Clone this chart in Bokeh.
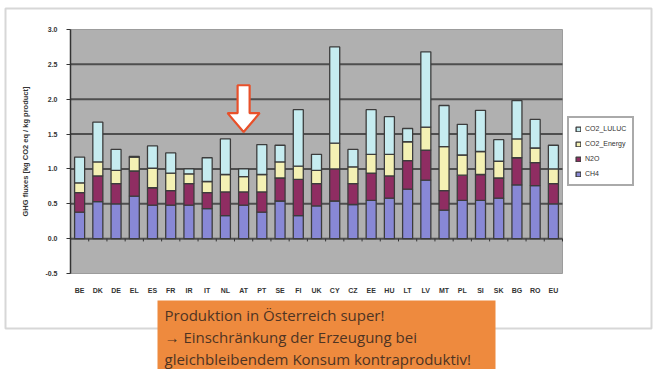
from bokeh.plotting import figure
from bokeh.models import (Range1d, Legend, LegendItem, Label, LinearAxis,
                          BoxAnnotation, FixedTicker, NumeralTickFormatter)
from bokeh.embed import file_html
from bokeh.resources import INLINE

# ---- data ----
countries = ["BE", "DK", "DE", "EL", "ES", "FR", "IR", "IT", "NL", "AT", "PT", "SE",
             "FI", "UK", "CY", "CZ", "EE", "HU", "LT", "LV", "MT", "PL", "SI", "SK",
             "BG", "RO", "EU"]
ch4 = [0.38, 0.53, 0.50, 0.61, 0.48, 0.48, 0.48, 0.43, 0.33, 0.48, 0.38, 0.54,
       0.33, 0.47, 0.54, 0.49, 0.55, 0.58, 0.71, 0.84, 0.41, 0.55, 0.55, 0.58,
       0.77, 0.76, 0.50]
n2o = [0.28, 0.37, 0.29, 0.36, 0.25, 0.21, 0.31, 0.23, 0.34, 0.19, 0.29, 0.33,
       0.52, 0.32, 0.46, 0.30, 0.39, 0.32, 0.41, 0.43, 0.28, 0.36, 0.37, 0.29,
       0.39, 0.33, 0.29]
co2_energy = [0.14, 0.20, 0.19, 0.20, 0.28, 0.25, 0.14, 0.16, 0.25, 0.22, 0.25, 0.23,
              0.19, 0.19, 0.37, 0.24, 0.27, 0.31, 0.27, 0.33, 0.63, 0.29, 0.33, 0.24,
              0.27, 0.21, 0.21]
co2_luluc = [0.37, 0.57, 0.30, 0.01, 0.32, 0.29, 0.07, 0.34, 0.51, 0.11, 0.43, 0.24,
             0.81, 0.23, 1.38, 0.25, 0.64, 0.54, 0.19, 1.08, 0.59, 0.44, 0.59, 0.31,
             0.55, 0.41, 0.34]
series = ["CH4", "N2O", "CO2_Energy", "CO2_LULUC"]
y_ticks = [-0.5, 0.0, 0.5, 1.0, 1.5, 2.0, 2.5, 3.0]
highlight = "AT"
note_lines = ["Produktion in Österreich super!",
              "\u2192 Einschränkung der Erzeugung bei",
              "gleichbleibendem Konsum kontraproduktiv!"]

colors = ["#8888d6", "#8f2d62", "#f4f1b4", "#c6ecf0"]

# ---- layout geometry (canvas px) ----
W, H = 654, 369
FL, FR, FT, FB = 70, 562, 29, 273          # gray plot area on the canvas
n = len(countries)
ymin, ymax = y_ticks[0], y_ticks[-1]
ux = (FR - FL) / n                          # px per category
uy = (FB - FT) / (ymax - ymin)              # px per unit

p = figure(width=W, height=H, output_backend="svg", toolbar_location=None,
           x_range=Range1d(-FL / ux, n + (W - FR) / ux),
           y_range=Range1d(ymin - (H - FB) / uy, ymax + FT / uy),
           x_axis_type=None, y_axis_type=None,
           min_border=0, min_border_left=0, min_border_right=0,
           min_border_top=0, min_border_bottom=0)
p.background_fill_color = "white"
p.border_fill_color = "white"
p.outline_line_color = None
p.xgrid.visible = False
p.ygrid.visible = False

# outer frame of the chart
p.add_layout(BoxAnnotation(left=5, right=651, top=8, bottom=328,
                           left_units="canvas", right_units="canvas",
                           top_units="canvas", bottom_units="canvas",
                           fill_alpha=0, line_color="#7c7c7c", line_width=2,
                           level="underlay"))

# gray plot area + grid
p.quad(left=[0], right=[n], bottom=[ymin], top=[ymax], fill_color="#b0b0b0",
       line_color="#9c9c9c", line_width=1)
grid_y = [t for t in y_ticks if ymin < t < ymax]
p.segment(x0=[0] * len(grid_y), x1=[n] * len(grid_y), y0=grid_y, y1=grid_y,
          line_color="#4e4e4e", line_width=2)

# y axis
ya = LinearAxis(fixed_location=0, ticker=FixedTicker(ticks=y_ticks),
                formatter=NumeralTickFormatter(format="0.0"), bounds=(ymin, ymax))
ya.axis_line_color = "#333333"
ya.axis_line_width = 1.5
ya.major_tick_line_color = "#333333"
ya.major_tick_out = 4
ya.major_tick_in = 0
ya.minor_tick_line_color = None
ya.major_label_standoff = 9
ya.major_label_text_font = "Liberation Sans"
ya.major_label_text_font_size = "7px"
ya.major_label_text_font_style = "bold"
ya.major_label_text_color = "#333333"
ya.axis_label = "GHG fluxes [kg CO2 eq / kg product]"
ya.axis_label_text_font = "Liberation Sans"
ya.axis_label_text_font_size = "7.5px"
ya.axis_label_text_font_style = "bold"
ya.axis_label_text_color = "#333333"
ya.axis_label_standoff = 12
p.add_layout(ya, "left")

# x axis (category labels under the plot area)
centers = [i + 0.5 for i in range(n)]
xa = LinearAxis(fixed_location=ymin, ticker=FixedTicker(ticks=centers),
                major_label_overrides={c: name for c, name in zip(centers, countries)})
xa.axis_line_color = None
xa.major_tick_line_color = None
xa.minor_tick_line_color = None
xa.major_tick_out = 0
xa.major_tick_in = 0
xa.major_label_standoff = 13
xa.major_label_text_font = "Liberation Sans"
xa.major_label_text_font_size = "7px"
xa.major_label_text_font_style = "bold"
xa.major_label_text_color = "#333333"
p.add_layout(xa, "below")

# bars
data = dict(x=centers, CH4=ch4, N2O=n2o, CO2_Energy=co2_energy, CO2_LULUC=co2_luluc)
rs = p.vbar_stack(series, x="x", width=0.55, source=data, color=colors,
                  line_color="#3c3c3c", line_width=1.3)

# small category ticks on the zero line
p.segment(x0=list(range(n + 1)), y0=[0.0] * (n + 1), x1=list(range(n + 1)),
          y1=[-0.04] * (n + 1), line_color="#333333", line_width=1)

# arrow over Austria
cx = countries.index(highlight) + 0.5
top, neck, tip, hw, sw = 2.2, 1.8, 1.53, 0.88, 0.33
p.patch(x=[cx - sw, cx + sw, cx + sw, cx + hw, cx, cx - hw, cx - sw],
        y=[top, top, neck, neck, tip, neck, neck],
        fill_color="white", line_color="#e8502a", line_width=2.2)

# legend
items = [LegendItem(label=s, renderers=[r]) for s, r in zip(series, rs)][::-1]
legend = Legend(items=items, location=(567, H - 186), margin=0,
                label_text_font="Liberation Sans", label_text_font_size="7px",
                label_text_color="#333333", glyph_width=6, glyph_height=6,
                label_height=9, spacing=6, padding=6, label_standoff=4,
                border_line_color="#555555", border_line_width=2,
                background_fill_color="white", background_fill_alpha=1)
p.add_layout(legend, "center")

# orange note box
p.add_layout(BoxAnnotation(left=157, right=495, top=300, bottom=372,
                           left_units="canvas", right_units="canvas",
                           top_units="canvas", bottom_units="canvas",
                           fill_color="#ee8a3e", fill_alpha=1, line_alpha=0))
for t, cy in zip(note_lines, [314, 336, 358]):
    p.add_layout(Label(x=164, y=H - cy, x_units="screen", y_units="screen",
                       text=t, text_font="Open Sans", text_font_size="15px",
                       text_color="#4e3423", text_baseline="middle"))

open("out.html", "w").write(file_html(p, INLINE))
